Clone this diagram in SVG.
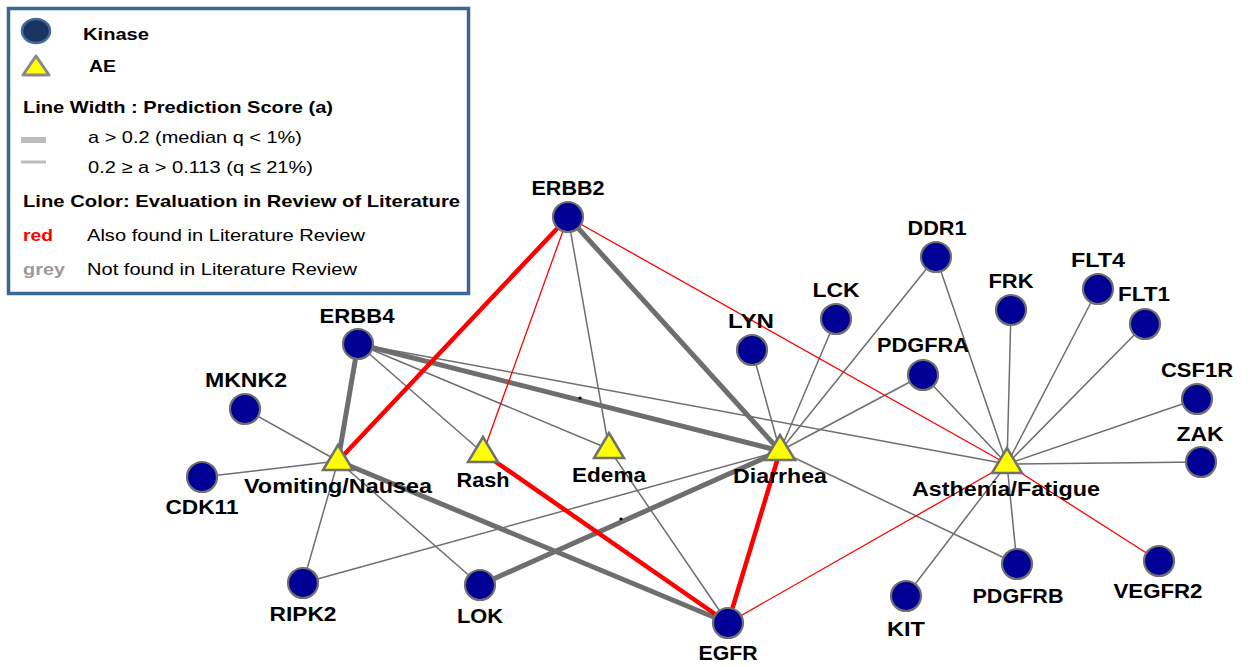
<svg xmlns="http://www.w3.org/2000/svg" width="1250" height="667" viewBox="0 0 1250 667">
<style>
.e{fill:none;stroke-linecap:round}
.g1{stroke:#6e6e6e;stroke-width:1.5}
.g2{stroke:#6e6e6e;stroke-width:5}
.r1{stroke:#ff0000;stroke-width:1.3}
.r2{stroke:#ff0000;stroke-width:4.5}
.k{fill:#000094;stroke:#707070;stroke-width:2.2}
.ae{fill:#ffff00;stroke:#707070;stroke-width:2.5;stroke-linejoin:miter}
.lb{font-family:"Liberation Sans",Arial,sans-serif;font-weight:bold;font-size:20px;fill:#000;text-anchor:middle}
.lg{font-family:"Liberation Sans",Arial,sans-serif;font-size:17px;fill:#000}
.lgb{font-family:"Liberation Sans",Arial,sans-serif;font-size:17px;font-weight:bold;fill:#000}
</style>
<defs>
<circle id="kc" r="15" class="k"/>
<polygon id="tri" points="0,-16 -15,9 15,9" class="ae"/>
</defs>
<rect width="1250" height="667" fill="#fff"/>

<g id="connectors">
<!-- grey thin -->
<line class="e g1" x1="568" y1="217" x2="609" y2="449"/>
<line class="e g1" x1="358" y1="344" x2="483" y2="453"/>
<line class="e g1" x1="358" y1="344" x2="609" y2="449"/>
<line class="e g1" x1="358" y1="344" x2="1007" y2="464"/>
<line class="e g1" x1="245" y1="409" x2="338" y2="461"/>
<line class="e g1" x1="202" y1="477" x2="338" y2="461"/>
<line class="e g1" x1="303" y1="583" x2="338" y2="461"/>
<line class="e g1" x1="480" y1="585" x2="338" y2="461"/>
<line class="e g1" x1="303" y1="583" x2="780" y2="451"/>
<line class="e g1" x1="609" y1="449" x2="728" y2="623"/>
<line class="e g1" x1="752" y1="350" x2="780" y2="451"/>
<line class="e g1" x1="836" y1="319" x2="780" y2="451"/>
<line class="e g1" x1="936" y1="257" x2="780" y2="451"/>
<line class="e g1" x1="923" y1="375" x2="780" y2="451"/>
<line class="e g1" x1="780" y1="451" x2="1017" y2="564"/>
<line class="e g1" x1="936" y1="257" x2="1007" y2="464"/>
<line class="e g1" x1="923" y1="375" x2="1007" y2="464"/>
<line class="e g1" x1="1011" y1="310" x2="1007" y2="464"/>
<line class="e g1" x1="1098" y1="289" x2="1007" y2="464"/>
<line class="e g1" x1="1145" y1="324" x2="1007" y2="464"/>
<line class="e g1" x1="1197" y1="399" x2="1007" y2="464"/>
<line class="e g1" x1="1201" y1="462" x2="1007" y2="464"/>
<line class="e g1" x1="1017" y1="564" x2="1007" y2="464"/>
<line class="e g1" x1="906" y1="596" x2="1007" y2="464"/>
<!-- grey thick -->
<line class="e g2" x1="568" y1="217" x2="780" y2="451"/>
<line class="e g2" x1="358" y1="344" x2="338" y2="461"/>
<line class="e g2" x1="358" y1="344" x2="780" y2="451"/>
<line class="e g2" x1="338" y1="461" x2="728" y2="623"/>
<line class="e g2" x1="480" y1="585" x2="780" y2="451"/>
<!-- red thin -->
<line class="e r1" x1="568" y1="217" x2="483" y2="453"/>
<line class="e r1" x1="568" y1="217" x2="1007" y2="464"/>
<line class="e r1" x1="728" y1="623" x2="1007" y2="464"/>
<line class="e r1" x1="1007" y1="464" x2="1159" y2="561"/>
<!-- red thick -->
<line class="e r2" x1="568" y1="217" x2="338" y2="461"/>
<line class="e r2" x1="483" y1="453" x2="728" y2="623"/>
<line class="e r2" x1="780" y1="451" x2="728" y2="623"/>
<circle cx="580" cy="398" r="1.6" fill="#000"/>
<circle cx="621" cy="519" r="1.6" fill="#000"/>
</g>

<g id="node-ERBB2"><use href="#kc" x="568" y="217"/><text class="lb" x="568" y="195" textLength="73" lengthAdjust="spacingAndGlyphs">ERBB2</text></g>
<g id="node-ERBB4"><use href="#kc" x="358" y="344"/><text class="lb" x="357" y="323" textLength="75" lengthAdjust="spacingAndGlyphs">ERBB4</text></g>
<g id="node-MKNK2"><use href="#kc" x="245" y="409"/><text class="lb" x="246" y="387" textLength="82" lengthAdjust="spacingAndGlyphs">MKNK2</text></g>
<g id="node-CDK11"><use href="#kc" x="202" y="477"/><text class="lb" x="202" y="514" textLength="73" lengthAdjust="spacingAndGlyphs">CDK11</text></g>
<g id="node-RIPK2"><use href="#kc" x="303" y="583"/><text class="lb" x="303" y="621" textLength="67" lengthAdjust="spacingAndGlyphs">RIPK2</text></g>
<g id="node-LOK"><use href="#kc" x="480" y="585"/><text class="lb" x="480" y="623" textLength="46" lengthAdjust="spacingAndGlyphs">LOK</text></g>
<g id="node-EGFR"><use href="#kc" x="728" y="623"/><text class="lb" x="728" y="660" textLength="59" lengthAdjust="spacingAndGlyphs">EGFR</text></g>
<g id="node-LYN"><use href="#kc" x="752" y="350"/><text class="lb" x="751" y="328" textLength="46" lengthAdjust="spacingAndGlyphs">LYN</text></g>
<g id="node-LCK"><use href="#kc" x="836" y="319"/><text class="lb" x="836" y="297" textLength="47" lengthAdjust="spacingAndGlyphs">LCK</text></g>
<g id="node-DDR1"><use href="#kc" x="936" y="257"/><text class="lb" x="937" y="235" textLength="59" lengthAdjust="spacingAndGlyphs">DDR1</text></g>
<g id="node-PDGFRA"><use href="#kc" x="923" y="375"/><text class="lb" x="923" y="352" textLength="92" lengthAdjust="spacingAndGlyphs">PDGFRA</text></g>
<g id="node-FRK"><use href="#kc" x="1011" y="310"/><text class="lb" x="1011" y="288" textLength="45" lengthAdjust="spacingAndGlyphs">FRK</text></g>
<g id="node-FLT4"><use href="#kc" x="1098" y="289"/><text class="lb" x="1098" y="267" textLength="54" lengthAdjust="spacingAndGlyphs">FLT4</text></g>
<g id="node-FLT1"><use href="#kc" x="1145" y="324"/><text class="lb" x="1144" y="301" textLength="52" lengthAdjust="spacingAndGlyphs">FLT1</text></g>
<g id="node-CSF1R"><use href="#kc" x="1197" y="399"/><text class="lb" x="1197" y="377" textLength="72" lengthAdjust="spacingAndGlyphs">CSF1R</text></g>
<g id="node-ZAK"><use href="#kc" x="1201" y="462"/><text class="lb" x="1200" y="441" textLength="47" lengthAdjust="spacingAndGlyphs">ZAK</text></g>
<g id="node-PDGFRB"><use href="#kc" x="1017" y="564"/><text class="lb" x="1018" y="603" textLength="91" lengthAdjust="spacingAndGlyphs">PDGFRB</text></g>
<g id="node-VEGFR2"><use href="#kc" x="1159" y="561"/><text class="lb" x="1158" y="598" textLength="89" lengthAdjust="spacingAndGlyphs">VEGFR2</text></g>
<g id="node-KIT"><use href="#kc" x="906" y="596"/><text class="lb" x="906" y="636" textLength="38" lengthAdjust="spacingAndGlyphs">KIT</text></g>

<g id="node-Vomiting"><use href="#tri" x="338" y="461"/><text class="lb" x="338" y="493" textLength="188" lengthAdjust="spacingAndGlyphs">Vomiting/Nausea</text></g>
<g id="node-Rash"><use href="#tri" x="483" y="453"/><text class="lb" x="483" y="487" textLength="53" lengthAdjust="spacingAndGlyphs">Rash</text></g>
<g id="node-Edema"><use href="#tri" x="609" y="449"/><text class="lb" x="609" y="482" textLength="74" lengthAdjust="spacingAndGlyphs">Edema</text></g>
<g id="node-Diarrhea"><use href="#tri" x="780" y="451"/><text class="lb" x="780" y="483" textLength="94" lengthAdjust="spacingAndGlyphs">Diarrhea</text></g>
<g id="node-Asthenia"><use href="#tri" x="1007" y="464"/><text class="lb" x="1006" y="496" textLength="188" lengthAdjust="spacingAndGlyphs">Asthenia/Fatigue</text></g>

<g id="legend">
<rect x="8.5" y="8.5" width="460" height="285" fill="#fff" stroke="#3d6698" stroke-width="3.5"/>
<ellipse cx="36" cy="31" rx="14" ry="12" fill="#1b3561" stroke="#46699c" stroke-width="2.5"/>
<text class="lgb" x="83" y="40" textLength="66" lengthAdjust="spacingAndGlyphs" font-size="18">Kinase</text>
<polygon points="36,56 23,75 49,75" fill="#ffff00" stroke="#8a8a8a" stroke-width="3" stroke-linejoin="round"/>
<text class="lgb" x="89" y="72" textLength="27" lengthAdjust="spacingAndGlyphs">AE</text>
<text class="lgb" x="23" y="113" textLength="310" lengthAdjust="spacingAndGlyphs">Line Width : Prediction Score (a)</text>
<line x1="21" y1="140" x2="46" y2="140" stroke="#bdbdbd" stroke-width="6"/>
<text class="lg" x="88" y="143" textLength="214" lengthAdjust="spacingAndGlyphs">a &gt; 0.2 (median  q &lt; 1%)</text>
<line x1="21" y1="162" x2="46" y2="162" stroke="#bdbdbd" stroke-width="3"/>
<text class="lg" x="88" y="173" textLength="225" lengthAdjust="spacingAndGlyphs">0.2 ≥ a &gt; 0.113 (q ≤ 21%)</text>
<text class="lgb" x="23" y="207" textLength="437" lengthAdjust="spacingAndGlyphs">Line Color: Evaluation in Review of Literature</text>
<text class="lgb" x="23" y="241" style="fill:#ff0000" textLength="30" lengthAdjust="spacingAndGlyphs">red</text>
<text class="lg" x="87" y="241" textLength="278" lengthAdjust="spacingAndGlyphs">Also found in Literature Review</text>
<text class="lgb" x="23" y="275" style="fill:#9a9a9a" textLength="42" lengthAdjust="spacingAndGlyphs">grey</text>
<text class="lg" x="87" y="275" textLength="270" lengthAdjust="spacingAndGlyphs">Not found in Literature Review</text>
</g>
</svg>
